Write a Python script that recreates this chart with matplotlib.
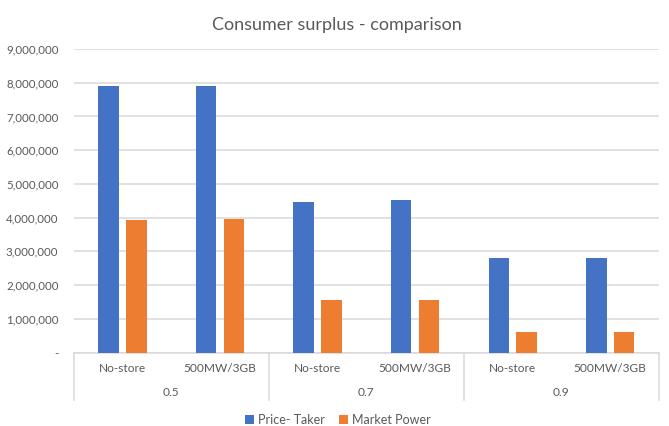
import numpy as np
import matplotlib.pyplot as plt
from matplotlib import transforms

# data
groups = ['0.5', '0.7', '0.9']
scenarios = ['No-store', '500MW/3GB']
price_taker = [7900000, 7900000, 4470000, 4510000, 2790000, 2790000]
market_power = [3930000, 3970000, 1560000, 1560000, 620000, 620000]
yticks = np.arange(0, 9000001, 1000000)

blue = '#4472C4'
orange = '#ED7D31'
grey_txt = '#595959'
grid_c = '#D9D9D9'

plt.rcParams['font.family'] = ['Lato', 'DejaVu Sans']

fig = plt.figure(figsize=(6.69, 4.26), dpi=100)
ax = fig.add_axes([0.1102, 0.1725, 0.985 - 0.1102, 0.885 - 0.1725])

n = len(price_taker)
x = np.arange(n)
w = 0.21
gap = 0.075
ax.bar(x + 0.5 - gap / 2 - w / 2, price_taker, w, color=blue, label='Price- Taker', zorder=3)
ax.bar(x + 0.5 + gap / 2 + w / 2, market_power, w, color=orange, label='Market Power', zorder=3)

ax.set_xlim(0, n)
ax.set_ylim(0, 9000000)
ax.set_yticks(yticks)
ax.set_yticklabels(['-'] + ['{:,}'.format(v) for v in yticks[1:]])
ax.yaxis.grid(True, color=grid_c, linewidth=1.1, zorder=0)
ax.tick_params(axis='y', length=0, pad=11, labelsize=8.3, labelcolor=grey_txt)
ax.set_xticks([])
for s in ['top', 'right', 'left']:
    ax.spines[s].set_visible(False)
ax.spines['bottom'].set_color(grid_c)
ax.spines['bottom'].set_linewidth(1.1)

# two level category axis
trans = transforms.blended_transform_factory(ax.transData, ax.transAxes)
for i in range(n):
    ax.text(i + 0.5, -0.054, scenarios[i % 2], transform=trans, ha='center', va='center',
            fontsize=8.6, color=grey_txt)
for g, name in enumerate(groups):
    ax.text(2 * g + 1, -0.133, name, transform=trans, ha='center', va='center',
            fontsize=8.6, color=grey_txt)
for k in range(0, n + 1, 2):
    ax.plot([k, k], [0, -0.156], transform=trans, color=grid_c, linewidth=1.1, clip_on=False)

fig.suptitle('Consumer surplus - comparison', x=0.503, y=0.96, fontsize=13, color=grey_txt)

fig.legend(loc='center', bbox_to_anchor=(0.505, 0.014), ncol=2, frameon=False, fontsize=9,
           handlelength=0.7, handleheight=0.7, handletextpad=0.3, columnspacing=1.2,
           labelcolor=grey_txt)

fig.savefig('out.png', dpi=100)
